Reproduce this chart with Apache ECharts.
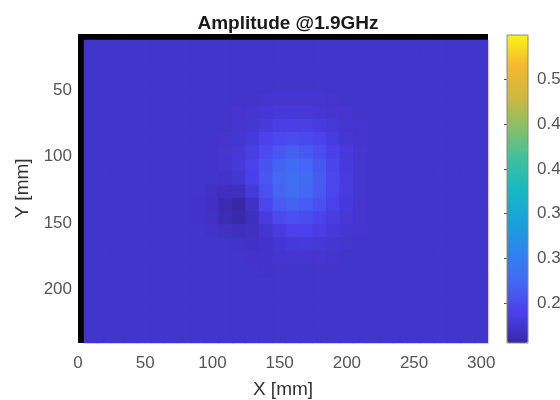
<!DOCTYPE html>
<html>
<head>
<meta charset="utf-8">
<title>Amplitude @1.9GHz</title>
<script src="https://cdn.jsdelivr.net/npm/echarts@6/dist/echarts.min.js"></script>
<style>
  html, body { margin: 0; padding: 0; background: #fff; }
  #chart { width: 560px; height: 400px; }
</style>
</head>
<body>
<div id="chart"></div>
<script>
// cell centres of the scan (mm)
const xCells = [9, 19, 29, 39, 49, 59, 69, 79, 89, 99, 109, 119, 129, 139, 149,
                159, 169, 179, 189, 199, 209, 219, 229, 239, 249, 259, 269, 279, 289, 299];
const yCells = [17, 27, 37, 47, 57, 67, 77, 87, 97, 106, 116, 126, 136, 146, 156,
                166, 176, 186, 196, 205, 215, 225, 235];

const xTicks = [0, 50, 100, 150, 200, 250, 300];
const yTicks = [50, 100, 150, 200];
const cbTicks = [0.25, 0.3, 0.35, 0.4, 0.45, 0.5];

// amplitude, one row per yCells entry, one column per xCells entry
const amp = [
  [.223,.223,.223,.223,.223,.223,.223,.223,.223,.223, .223,.223,.223,.223,.223,.223,.223,.223,.223,.223, .223,.223,.223,.223,.223,.223,.223,.223,.223,.223],
  [.223,.223,.223,.223,.223,.223,.223,.223,.223,.223, .223,.223,.223,.223,.223,.223,.223,.223,.223,.223, .223,.223,.223,.223,.223,.223,.223,.223,.223,.223],
  [.223,.223,.223,.223,.223,.223,.223,.223,.223,.223, .223,.223,.223,.223,.223,.223,.223,.223,.223,.223, .223,.223,.223,.223,.223,.223,.223,.223,.223,.223],
  [.223,.223,.223,.223,.223,.223,.223,.223,.223,.223, .223,.223,.223,.223,.223,.223,.223,.223,.223,.223, .223,.223,.223,.223,.223,.223,.223,.223,.223,.223],
  [.223,.223,.223,.223,.223,.223,.223,.223,.223,.223, .223,.223,.223,.224,.225,.225,.225,.225,.224,.223, .223,.223,.223,.223,.223,.223,.223,.223,.223,.223],
  [.223,.223,.223,.223,.223,.223,.223,.223,.223,.223, .223,.224,.225,.227,.229,.230,.229,.227,.225,.224, .223,.223,.223,.223,.223,.223,.223,.223,.223,.223],
  [.223,.223,.223,.223,.223,.223,.223,.223,.223,.223, .223,.225,.227,.231,.235,.237,.236,.232,.228,.225, .224,.223,.223,.223,.223,.223,.223,.223,.223,.223],
  [.223,.223,.223,.223,.223,.223,.223,.223,.223,.223, .224,.226,.231,.239,.246,.250,.247,.240,.232,.227, .224,.223,.223,.223,.223,.223,.223,.223,.223,.223],
  [.223,.223,.223,.223,.223,.223,.223,.223,.223,.223, .225,.228,.236,.248,.259,.265,.261,.250,.238,.229, .225,.223,.223,.223,.223,.223,.223,.223,.223,.223],
  [.223,.223,.223,.223,.223,.223,.223,.223,.223,.223, .225,.230,.239,.255,.270,.277,.272,.258,.242,.231, .226,.223,.223,.223,.223,.223,.223,.223,.223,.223],
  [.223,.223,.223,.223,.223,.223,.223,.223,.223,.223, .222,.226,.238,.258,.274,.281,.277,.263,.245,.232, .226,.223,.223,.223,.223,.223,.223,.223,.223,.223],
  [.223,.223,.223,.223,.223,.223,.223,.223,.223,.220, .216,.216,.230,.253,.271,.279,.274,.261,.244,.232, .226,.223,.223,.223,.223,.223,.223,.223,.223,.223],
  [.223,.223,.223,.223,.223,.223,.223,.223,.222,.218, .209,.205,.219,.244,.262,.269,.264,.253,.239,.230, .225,.223,.223,.223,.223,.223,.223,.223,.223,.223],
  [.223,.223,.223,.223,.223,.223,.223,.223,.222,.219, .211,.207,.216,.232,.247,.253,.251,.243,.234,.228, .225,.223,.223,.223,.223,.223,.223,.223,.223,.223],
  [.223,.223,.223,.223,.223,.223,.223,.223,.223,.221, .218,.216,.218,.224,.233,.239,.239,.234,.229,.226, .224,.223,.223,.223,.223,.223,.223,.223,.223,.223],
  [.223,.223,.223,.223,.223,.223,.223,.223,.223,.223, .223,.221,.220,.222,.226,.230,.231,.228,.226,.224, .223,.223,.223,.223,.223,.223,.223,.223,.223,.223],
  [.223,.223,.223,.223,.223,.223,.223,.223,.223,.223, .223,.223,.222,.222,.224,.226,.226,.225,.224,.223, .223,.223,.223,.223,.223,.223,.223,.223,.223,.223],
  [.223,.223,.223,.223,.223,.223,.223,.223,.223,.223, .223,.223,.223,.222,.223,.223,.223,.223,.223,.223, .223,.223,.223,.223,.223,.223,.223,.223,.223,.223],
  [.223,.223,.223,.223,.223,.223,.223,.223,.223,.223, .223,.223,.223,.223,.223,.223,.223,.223,.223,.223, .223,.223,.223,.223,.223,.223,.223,.223,.223,.223],
  [.223,.223,.223,.223,.223,.223,.223,.223,.223,.223, .223,.223,.223,.223,.223,.223,.223,.223,.223,.223, .223,.223,.223,.223,.223,.223,.223,.223,.223,.223],
  [.223,.223,.223,.223,.223,.223,.223,.223,.223,.223, .223,.223,.223,.223,.223,.223,.223,.223,.223,.223, .223,.223,.223,.223,.223,.223,.223,.223,.223,.223],
  [.223,.223,.223,.223,.223,.223,.223,.223,.223,.223, .223,.223,.223,.223,.223,.223,.223,.223,.223,.223, .223,.223,.223,.223,.223,.223,.223,.223,.223,.223],
  [.223,.223,.223,.223,.223,.223,.223,.223,.223,.223, .223,.223,.223,.223,.223,.223,.223,.223,.223,.223, .223,.223,.223,.223,.223,.223,.223,.223,.223,.223]
];

// parula-like colour scale as it looks in the picture
const parula = ['#3828a8', '#4c40ec', '#4468f4', '#2e86ee', '#18a4d8', '#18b8c0',
                '#40c0a0', '#88c068', '#d0b840', '#f4b830', '#f8f418'];

const font = '"Liberation Sans", Arial, Helvetica, sans-serif';

const cells = [];
amp.forEach((row, r) => {
  row.forEach((v, c) => cells.push([c, r, v]));
});

const chart = echarts.init(document.getElementById('chart'));

const option = {
  animation: false,
  title: {
    text: 'Amplitude @1.9GHz',
    left: 283,
    top: 9,
    textAlign: 'center',
    textStyle: { fontFamily: font, fontSize: 19, fontWeight: 'bold', color: '#1a1a1a' }
  },
  grid: [
    // axes frame, black where there is no scan data
    { left: 78, right: 72, top: 34, bottom: 57, outerBoundsMode: 'none',
      show: true, backgroundColor: '#000', borderWidth: 0 },
    // scan area (filled with the base colour so cell seams do not show)
    { left: 84, right: 72, top: 40, bottom: 57, outerBoundsMode: 'none',
      show: true, backgroundColor: '#4234cb', borderWidth: 0 },
    // colorbar frame
    { left: 507, width: 21, top: 35, bottom: 57, outerBoundsMode: 'none',
      show: true, backgroundColor: 'transparent', borderColor: '#8a8a70', borderWidth: 1, z: 10 }
  ],
  xAxis: [
    {
      type: 'value', gridIndex: 0, min: 0, max: 305,
      name: 'X [mm]', nameLocation: 'middle', nameGap: 37,
      nameTextStyle: { fontFamily: font, fontSize: 19, color: '#333' },
      axisLine: { show: false }, axisTick: { show: false }, splitLine: { show: false },
      axisLabel: { customValues: xTicks, margin: 12, fontFamily: font, fontSize: 17, color: '#555' }
    },
    { type: 'category', gridIndex: 1, data: xCells, show: false },
    { type: 'value', gridIndex: 2, show: false }
  ],
  yAxis: [
    {
      type: 'value', gridIndex: 0, min: 8, max: 240, inverse: true,
      name: 'Y [mm]', nameLocation: 'middle', nameGap: 43,
      nameTextStyle: { fontFamily: font, fontSize: 19, color: '#333' },
      axisLine: { show: false }, axisTick: { show: false }, splitLine: { show: false },
      axisLabel: { customValues: yTicks, margin: 6, fontFamily: font, fontSize: 17, color: '#555' }
    },
    { type: 'category', gridIndex: 1, data: yCells, inverse: true, show: false },
    {
      type: 'value', gridIndex: 2, min: 0.205, max: 0.55, position: 'right',
      axisLine: { show: false }, splitLine: { show: false },
      axisTick: { show: true, inside: true, length: 3, customValues: cbTicks, lineStyle: { color: '#555' } },
      axisLabel: { customValues: cbTicks, margin: 9, fontFamily: font, fontSize: 17, color: '#555' }
    }
  ],
  visualMap: {
    type: 'continuous',
    min: 0.205, max: 0.55,
    seriesIndex: 0, dimension: 2,
    calculable: false,
    hoverLink: false,
    left: 507, top: 35,
    itemWidth: 21, itemHeight: 308,
    padding: 0,
    inRange: { color: parula },
    controller: {
      inRange: { color: parula, symbolSize: [21, 21] },
      outOfRange: { color: ['#fff'], symbolSize: [21, 21] }
    }
  },
  series: [{
    type: 'heatmap',
    xAxisIndex: 1, yAxisIndex: 1,
    data: cells,
    progressive: 0,
    itemStyle: { borderWidth: 0 }
  }]
};

chart.setOption(option);
</script>
</body>
</html>
